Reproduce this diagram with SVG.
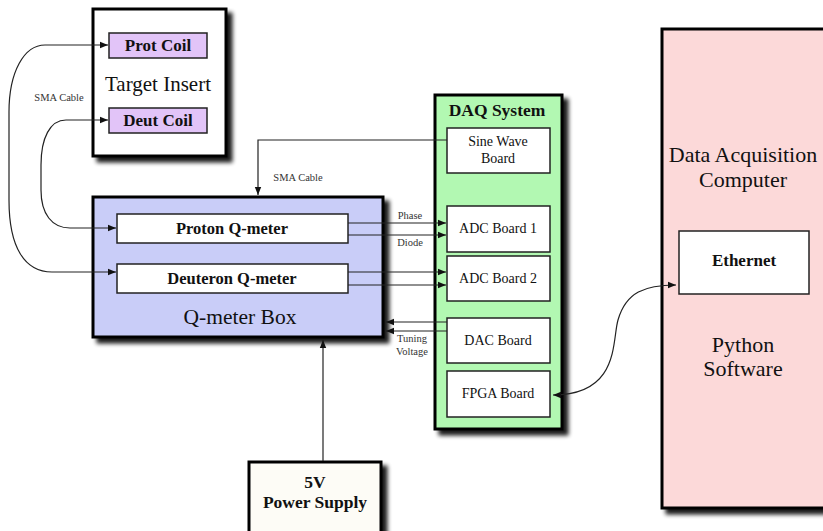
<svg xmlns="http://www.w3.org/2000/svg" width="823" height="531" viewBox="0 0 823 531">
  <defs>
    <filter id="shadow" x="-10%" y="-10%" width="130%" height="130%">
      <feGaussianBlur in="SourceAlpha" stdDeviation="2"/>
      <feOffset dx="5" dy="5" result="b"/>
      <feComponentTransfer><feFuncA type="linear" slope="0.9"/></feComponentTransfer>
      <feMerge><feMergeNode/><feMergeNode in="SourceGraphic"/></feMerge>
    </filter>
    <marker id="arr" viewBox="0 0 10 10" refX="10" refY="5" markerWidth="8" markerHeight="8" markerUnits="userSpaceOnUse" orient="auto-start-reverse">
      <path d="M0,1 L10,5 L0,9 z" fill="#111"/>
    </marker>
  </defs>
  <style>
    .frame { stroke: #000; stroke-width: 3; }
    .inner { fill: #fff; stroke: #222; stroke-width: 1.5; }
    .coil { fill: #e2c4f8; stroke: #222; stroke-width: 1.5; }
    .wire { fill: none; stroke: #222; stroke-width: 1.2; }
    .t { font-family: "Liberation Serif", "DejaVu Serif", serif; fill: #111; text-anchor: middle; }
    .b { font-weight: bold; }
    .small { font-size: 10.5px; fill: #333; }
  </style>

  <!-- Target insert with its two coils -->
  <g id="target-insert">
    <rect x="93" y="9" width="133" height="147" fill="#fff" class="frame" filter="url(#shadow)"/>
    <text x="158" y="91" class="t" font-size="21">Target Insert</text>
  </g>
  <g id="prot-coil">
    <rect x="109" y="33" width="98" height="25" class="coil"/>
    <text x="158" y="51" class="t b" font-size="17">Prot Coil</text>
  </g>
  <g id="deut-coil">
    <rect x="109" y="108" width="98" height="25" class="coil"/>
    <text x="158" y="126" class="t b" font-size="17">Deut Coil</text>
  </g>

  <!-- Q-meter box -->
  <g id="qmeter-box">
    <rect x="93" y="197" width="290" height="140" fill="#c9cdf8" class="frame" filter="url(#shadow)"/>
    <text x="240" y="324" class="t" font-size="21.5">Q-meter Box</text>
  </g>
  <g id="proton-qmeter">
    <rect x="117" y="214" width="231" height="29" class="inner"/>
    <text x="232" y="234" class="t b" font-size="16.5">Proton Q-meter</text>
  </g>
  <g id="deuteron-qmeter">
    <rect x="117" y="264" width="231" height="29" class="inner"/>
    <text x="232" y="284" class="t b" font-size="16.5">Deuteron Q-meter</text>
  </g>

  <!-- DAQ system -->
  <g id="daq-system">
    <rect x="435" y="95" width="127" height="334" fill="#b2f8b2" class="frame" filter="url(#shadow)"/>
    <text x="497" y="116" class="t b" font-size="17.5">DAQ System</text>
  </g>
  <g id="sine-wave-board">
    <rect x="447" y="128" width="103" height="45" class="inner"/>
    <text x="498" y="146" class="t" font-size="14">Sine Wave</text>
    <text x="498" y="163" class="t" font-size="14">Board</text>
  </g>
  <g id="adc-board-1">
    <rect x="447" y="206" width="103" height="46" class="inner"/>
    <text x="498" y="233" class="t" font-size="14">ADC Board 1</text>
  </g>
  <g id="adc-board-2">
    <rect x="447" y="256" width="103" height="45" class="inner"/>
    <text x="498" y="283" class="t" font-size="14">ADC Board 2</text>
  </g>
  <g id="dac-board">
    <rect x="447" y="318" width="103" height="45" class="inner"/>
    <text x="498" y="345" class="t" font-size="14">DAC Board</text>
  </g>
  <g id="fpga-board">
    <rect x="447" y="371" width="103" height="46" class="inner"/>
    <text x="498" y="398" class="t" font-size="14">FPGA Board</text>
  </g>

  <!-- Data acquisition computer -->
  <g id="computer">
    <rect x="662" y="29" width="170" height="479" fill="#fcd9d9" class="frame" filter="url(#shadow)"/>
    <text x="743" y="162" class="t" font-size="22">Data Acquisition</text>
    <text x="743" y="187" class="t" font-size="22">Computer</text>
    <text x="743" y="352" class="t" font-size="22">Python</text>
    <text x="743" y="376" class="t" font-size="22">Software</text>
  </g>
  <g id="ethernet">
    <rect x="679" y="231" width="130" height="63" class="inner"/>
    <text x="744" y="266" class="t b" font-size="17">Ethernet</text>
  </g>

  <!-- Power supply -->
  <g id="power-supply">
    <rect x="249" y="462" width="132" height="72" fill="#fdfcf6" class="frame" filter="url(#shadow)"/>
    <text x="315" y="488" class="t b" font-size="17.5">5V</text>
    <text x="315" y="508" class="t b" font-size="17.5">Power Supply</text>
  </g>

  <!-- Connectors -->
  <g id="connectors">
    <path class="wire" d="M116,272 L52,272 C25,272 9,248 9,200 L9,112 C9,72 24,45 45,45 L108,45" marker-start="url(#arr)" marker-end="url(#arr)"/>
    <path class="wire" d="M116,228 L70,228 C52,228 41,214 41,190 L41,165 C41,138 50,120 66,120 L108,120" marker-start="url(#arr)" marker-end="url(#arr)"/>
    <path class="wire" d="M447,140 L258,140 L258,195" marker-end="url(#arr)"/>
    <path class="wire" d="M348,223 L446,223" marker-end="url(#arr)"/>
    <path class="wire" d="M348,235 L446,235" marker-end="url(#arr)"/>
    <path class="wire" d="M348,272 L446,272" marker-end="url(#arr)"/>
    <path class="wire" d="M348,285 L446,285" marker-end="url(#arr)"/>
    <path class="wire" d="M447,322 L386,322" marker-end="url(#arr)"/>
    <path class="wire" d="M447,331 L386,331" marker-end="url(#arr)"/>
    <path class="wire" d="M323,461 L323,340" marker-end="url(#arr)"/>
    <path class="wire" d="M553,395 C620,395 612,340 618,320 C626,292 645,285 676,285" marker-start="url(#arr)" marker-end="url(#arr)"/>
    <text x="59" y="101" class="t small">SMA Cable</text>
    <text x="298" y="181" class="t small">SMA Cable</text>
    <text x="410" y="219" class="t small">Phase</text>
    <text x="410" y="246" class="t small">Diode</text>
    <text x="412" y="342" class="t small">Tuning</text>
    <text x="412" y="355" class="t small">Voltage</text>
  </g>
</svg>
